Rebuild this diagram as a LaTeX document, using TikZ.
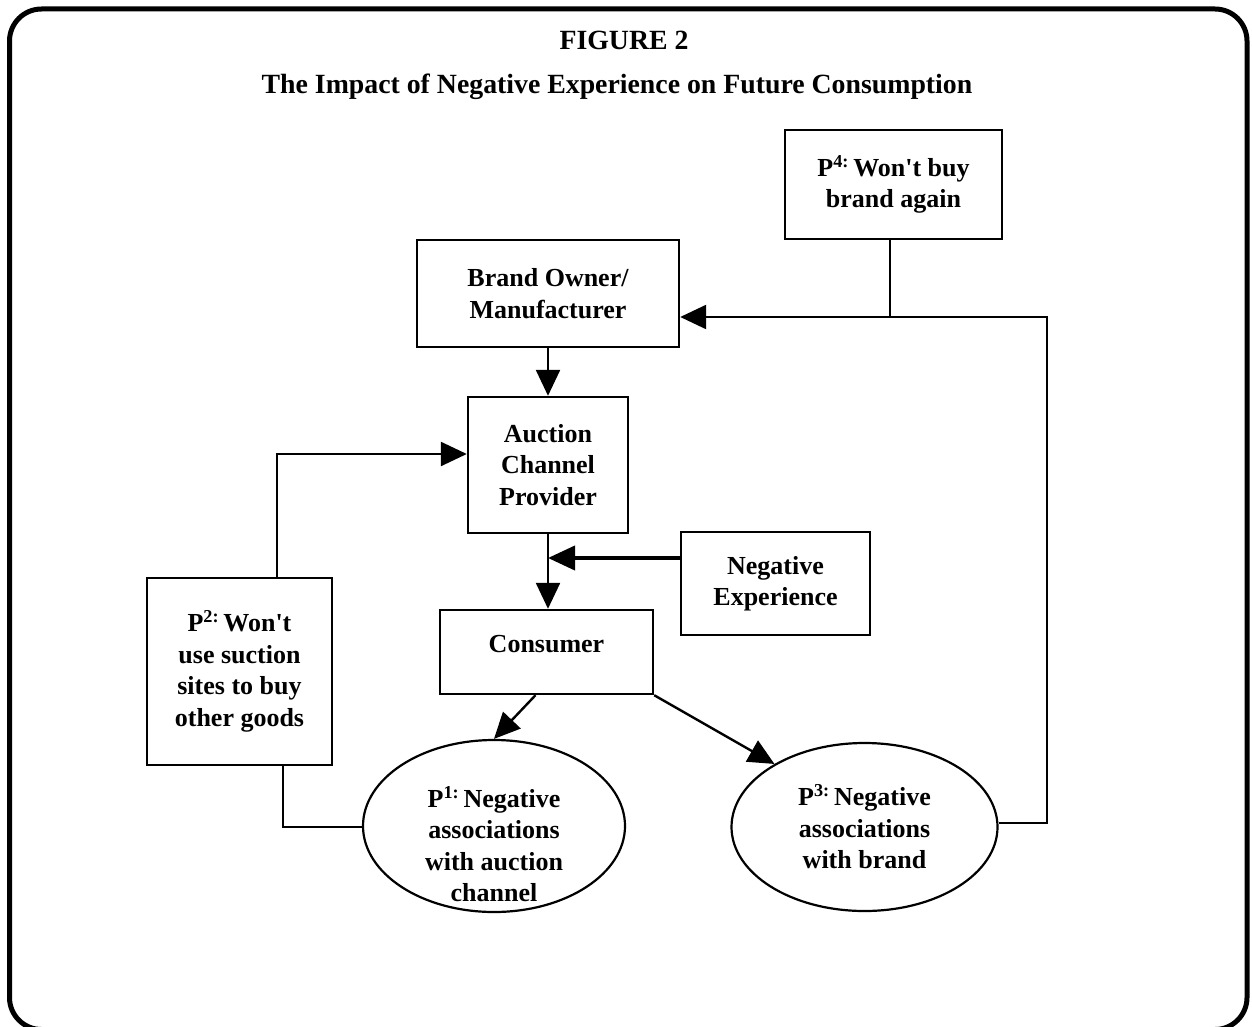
\documentclass[tikz,border=0pt]{standalone}
\usepackage{fontspec}
\defaultfontfeatures[\rmfamily]{}
\setmainfont{Liberation Serif}[Ligatures=Common]
\usetikzlibrary{arrows.meta,shapes.geometric,calc}

\tikzset{
  lbl/.style={font=\fontsize{26}{31.5}\selectfont\bfseries, align=center},
  headlbl/.style={font=\fontsize{27.8}{33}\selectfont\bfseries, align=center},
  boxnode/.style={draw, line width=2.4pt, rectangle, inner sep=0pt, lbl},
  ellnode/.style={draw, line width=2.2pt, ellipse, inner sep=0pt},
  link/.style={line width=2.4pt},
  arr/.style={link, -{Triangle[length=26pt,width=24pt]}},
  heavyarr/.style={line width=4pt, -{Triangle[length=27pt,width=24pt]}},
}

\begin{document}
\begin{tikzpicture}[x=1pt, y=-1pt]
\useasboundingbox (0,0) rectangle (1252,1027);

% outer frame
\draw[line width=5pt, rounded corners=32pt] (9.5,9) rectangle (1247,1029.5);

% heading
\node[headlbl, anchor=base] (fig) at (624,50) {FIGURE 2};
\node[headlbl, anchor=base] (title) at (617,94) {The Impact of Negative Experience on Future Consumption};

% boxes
\node[boxnode, minimum width=217pt, minimum height=109pt] (p4) at (893.5,184.5)
  {P\textsuperscript{4:}\,Won't buy\\brand again};
\node[boxnode, minimum width=262pt, minimum height=107pt] (brand) at (548,293.5)
  {Brand Owner/\\Manufacturer};
\node[boxnode, minimum width=160pt, minimum height=136pt] (auction) at (548,465)
  {Auction\\Channel\\Provider};
\node[boxnode, minimum width=189pt, minimum height=103pt] (neg) at (775.5,583.5)
  {Negative\\Experience};
\node[boxnode, minimum width=213pt, minimum height=84pt, text height=18pt, text depth=18pt] (consumer) at (546.5,652)
  {Consumer};
\node[boxnode, minimum width=185pt, minimum height=187pt] (p2) at (239.5,671.5)
  {P\textsuperscript{2:}\,Won't\\use suction\\sites to buy\\other goods};

% ellipses
\node[ellnode, minimum width=262pt, minimum height=172pt] (p1) at (494,826) {};
\node[lbl] (p1t) at (494,844) {P\textsuperscript{1:}\,Negative\\associations\\with auction\\channel};
\node[ellnode, minimum width=266pt, minimum height=168pt] (p3) at (864.5,827) {};
\node[lbl] (p3t) at (864.5,827) {P\textsuperscript{3:}\,Negative\\associations\\with brand};

% bend points
\coordinate (rc) at (1047,317);
\coordinate (rb) at (1047,823);
\coordinate (jn) at (548,558);
\coordinate (lt) at (277,454);
\coordinate (lb) at (283,827);

% connectors
\draw[arr] (brand.south) -- (auction.north);
\draw[link] (p4.south -| 890,0) -- (890,317);
\draw[arr] (p3.east |- rb) -- (rb) -- (rc) -- (rc -| brand.east);
\draw[arr] (auction.south) -- (auction.south |- consumer.north);
\draw[heavyarr] (neg.west |- jn) -- (jn);
\draw[arr] ($(consumer.south)+(-11,0)$) -- (p1.north);
\draw[arr] (consumer.south east) -- (p3.145);
\draw[arr] (p2.north -| lt) -- (lt) -- (lt -| auction.west);
\draw[link] (p2.south -| lb) -- (lb) -- (lb -| p1.west);
\end{tikzpicture}
\end{document}
